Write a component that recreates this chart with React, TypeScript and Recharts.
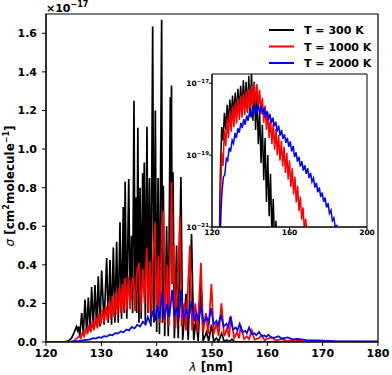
import React from 'react';
import { LineChart, Line, XAxis, YAxis, ReferenceArea } from 'recharts';

const xTicks = [120, 130, 140, 150, 160, 170, 180];
const yTicks = [0, 0.2, 0.4, 0.6, 0.8, 1.0, 1.2, 1.4, 1.6];
const insetXTicks = [120, 160, 200];
const insetYTicks = [1e-21, 1e-19, 1e-17];

const seriesNames = ['T = 300 K', 'T = 1000 K', 'T = 2000 K'];
const seriesColors = ['#000000', '#ff0000', '#0000ff'];

// main panel: [lambda (nm), sigma (1e-17 cm^2/molecule)]
const black300 = [
  [120, 0], [123, 0], [124, 0.005], [124.6, 0.02], [125.1, 0.05], [125.5, 0.08], [125.7, 0.06], [125.9, 0.08],
  [126.1, 0.03], [126.45, 0.15], [126.75, 0.04], [127.05, 0.22], [127.35, 0.05], [127.65, 0.23], [127.95, 0.06],
  [128.25, 0.285], [128.55, 0.07], [128.85, 0.295], [129.15, 0.08], [129.45, 0.34], [129.75, 0.08], [130.06, 0.37],
  [130.5, 0.09], [130.96, 0.435], [131.25, 0.1], [131.57, 0.425], [131.85, 0.09], [132.17, 0.49], [132.45, 0.1],
  [132.77, 0.52], [133.05, 0.1], [133.37, 0.62], [133.65, 0.12], [133.97, 0.7], [134.15, 0.15], [134.3, 0.83],
  [134.6, 0.12], [134.95, 0.845], [135.2, 0.2], [135.45, 0.55], [135.65, 0.15], [135.9, 1.25], [136.1, 0.2],
  [136.25, 0.75], [136.4, 0.15], [136.6, 1.11], [136.8, 0.1], [137.0, 0.8], [137.2, 0.12], [137.47, 0.875],
  [137.6, 0.3], [137.76, 0.93], [137.95, 0.1], [138.25, 1.115], [138.45, 0.15], [138.7, 0.85], [138.95, 0.08],
  [139.28, 1.635], [139.5, 0.1], [139.76, 1.2], [140.0, 0.05], [140.25, 0.85], [140.5, 0.04], [140.9, 1.67],
  [141.05, 0.1], [141.2, 0.81], [141.45, 0.03], [141.8, 0.6], [142.1, 0.03], [142.47, 1.27], [142.57, 0.6],
  [142.68, 1.33], [142.8, 0.3], [142.95, 0.88], [143.2, 0.02], [143.6, 0.5], [143.9, 0.02], [144.38, 0.855],
  [144.7, 0.01], [145.3, 0.25], [145.7, 0.01], [146.3, 0.56], [146.7, 0.01], [147.1, 0.12], [147.5, 0.005],
  [148.0, 0.31], [148.4, 0.005], [149.0, 0.05], [149.4, 0.005], [149.9, 0.09], [150.3, 0.003], [150.8, 0.02],
  [151.2, 0.003], [151.75, 0.045], [152.2, 0.002], [152.7, 0.01], [153.1, 0.002], [153.6, 0.015], [154.1, 0.001],
  [155, 0.001], [160, 0], [180, 0],
];

const red1000 = [
  [120, 0], [124, 0], [125, 0.005], [125.6, 0.02], [126, 0.03], [126.3, 0.02], [126.6, 0.05], [126.9, 0.03],
  [127.2, 0.07], [127.5, 0.04], [127.8, 0.09], [128.1, 0.05], [128.4, 0.11], [128.7, 0.06], [129.0, 0.13],
  [129.3, 0.07], [129.6, 0.15], [129.9, 0.09], [130.2, 0.17], [130.5, 0.1], [130.8, 0.19], [131.1, 0.11],
  [131.4, 0.21], [131.7, 0.12], [132.0, 0.24], [132.3, 0.13], [132.6, 0.26], [132.9, 0.14], [133.2, 0.28],
  [133.5, 0.15], [133.8, 0.3], [134.05, 0.16], [134.3, 0.33], [134.6, 0.17], [134.9, 0.34], [135.2, 0.17],
  [135.5, 0.3], [135.8, 0.34], [136.1, 0.16], [136.4, 0.36], [136.8, 0.41], [137.1, 0.15], [137.5, 0.38],
  [137.8, 0.2], [138.2, 0.49], [138.5, 0.15], [138.8, 0.42], [139.1, 0.13], [139.3, 0.4], [139.7, 0.62],
  [140.0, 0.14], [140.3, 0.45], [140.6, 0.1], [141.0, 0.6], [141.2, 0.68], [141.5, 0.1], [141.9, 0.4],
  [142.2, 0.08], [142.7, 0.83], [142.9, 0.3], [143.1, 0.5], [143.4, 0.07], [143.8, 0.3], [144.2, 0.65],
  [144.5, 0.08], [145.0, 0.2], [145.3, 0.06], [146.0, 0.5], [146.4, 0.06], [147.0, 0.2], [147.4, 0.05],
  [148.0, 0.41], [148.4, 0.05], [148.9, 0.15], [149.3, 0.04], [149.9, 0.3], [150.3, 0.04], [150.8, 0.1],
  [151.2, 0.03], [151.7, 0.2], [152.2, 0.03], [152.7, 0.07], [153.1, 0.025], [153.4, 0.135], [154.0, 0.02],
  [154.5, 0.05], [154.9, 0.02], [155.2, 0.085], [155.8, 0.015], [156.3, 0.03], [156.7, 0.015], [157.2, 0.06],
  [157.7, 0.012], [158.5, 0.02], [159.0, 0.035], [159.5, 0.01], [160.8, 0.025], [161.5, 0.008], [162.5, 0.015],
  [163.5, 0.006], [165, 0.008], [167, 0.004], [170, 0.003], [175, 0.002], [180, 0.001],
];

const blue2000 = [
  [120, 0], [124, 0], [125, 0.003], [126, 0.006], [127, 0.01], [128, 0.014], [128.5, 0.02], [129, 0.018],
  [129.5, 0.025], [130, 0.022], [130.5, 0.03], [131, 0.028], [131.5, 0.038], [132, 0.035], [132.5, 0.046],
  [133, 0.043], [133.5, 0.055], [134, 0.05], [134.5, 0.065], [135, 0.06], [135.5, 0.078], [136, 0.07],
  [136.5, 0.09], [137, 0.08], [137.5, 0.105], [138, 0.09], [138.4, 0.13], [138.8, 0.1], [139.3, 0.16],
  [139.7, 0.11], [140.1, 0.19], [140.5, 0.12], [141.0, 0.26], [141.4, 0.12], [141.9, 0.2], [142.3, 0.13],
  [142.8, 0.27], [143.2, 0.13], [143.6, 0.18], [144.0, 0.12], [144.4, 0.27], [144.9, 0.12], [145.4, 0.17],
  [145.8, 0.12], [146.3, 0.21], [146.8, 0.11], [147.2, 0.15], [147.6, 0.11], [148.0, 0.19], [148.5, 0.1],
  [149.0, 0.13], [149.4, 0.1], [149.85, 0.175], [150.3, 0.09], [150.8, 0.11], [151.1, 0.085], [151.6, 0.14],
  [152.1, 0.08], [152.6, 0.095], [152.9, 0.075], [153.3, 0.13], [153.8, 0.065], [154.3, 0.075], [154.6, 0.06],
  [155.0, 0.095], [155.5, 0.05], [156.0, 0.058], [156.3, 0.045], [156.7, 0.075], [157.2, 0.04], [157.7, 0.045],
  [158.0, 0.035], [158.5, 0.052], [159.0, 0.03], [159.5, 0.034], [159.8, 0.026], [160.2, 0.038], [160.8, 0.022],
  [161.5, 0.024], [162.0, 0.03], [162.6, 0.018], [163.7, 0.024], [164.5, 0.014], [165.5, 0.016], [167, 0.01],
  [169, 0.008], [172, 0.005], [176, 0.004], [180, 0.003],
];

// inset, log scale: [lambda (nm), sigma (cm^2/molecule)]
const insetBlack = [
  [123.6, 1e-22], [124.3, 3e-20], [125.0, 6e-19], [125.7, 2.5e-19], [126.4, 1.5e-18], [127.1, 5e-19],
  [127.8, 2.5e-18], [128.5, 8e-19], [129.2, 3.5e-18], [129.9, 1.1e-18], [130.6, 4.5e-18], [131.3, 1.3e-18],
  [132.0, 5.5e-18], [132.7, 1.5e-18], [133.4, 7e-18], [134.1, 1.8e-18], [134.8, 8.5e-18], [135.5, 2e-18],
  [136.2, 1.2e-17], [136.9, 2e-18], [137.6, 1.1e-17], [138.3, 1.5e-18], [139.0, 1.6e-17], [139.7, 1.2e-18],
  [140.4, 2.2e-17], [141.1, 9e-19], [141.8, 1.1e-17], [142.5, 5e-19], [143.2, 5e-18], [143.9, 2e-19],
  [144.6, 1.5e-18], [145.3, 6e-20], [146.0, 7e-19], [146.7, 2e-20], [147.4, 3e-19], [148.1, 5e-21],
  [148.8, 1e-19], [149.5, 2e-21], [150.2, 3e-20], [150.9, 6e-22], [151.6, 6e-21], [152.3, 3e-22],
  [153.0, 1.5e-21], [153.7, 2e-22], [154.4, 5e-22], [155.1, 1e-22],
];

const insetRed = [
  [124.0, 1e-22], [124.5, 1e-20], [125.0, 1.2e-19], [125.7, 5e-20], [126.4, 5e-19], [127.1, 1.8e-19],
  [127.8, 1e-18], [128.5, 3e-19], [129.2, 1.7e-18], [129.9, 4.5e-19], [130.6, 2.3e-18], [131.3, 6e-19],
  [132.0, 2.9e-18], [132.7, 7.5e-19], [133.4, 3.8e-18], [134.1, 9.5e-19], [134.8, 4.5e-18], [135.5, 1.1e-18],
  [136.2, 5.2e-18], [136.9, 1.3e-18], [137.6, 6e-18], [138.3, 1.6e-18], [139.0, 7e-18], [139.7, 2e-18],
  [140.4, 8.5e-18], [141.1, 2.3e-18], [141.8, 1e-17], [142.5, 2.6e-18], [143.2, 9.5e-18], [143.9, 2.2e-18],
  [144.6, 6.5e-18], [145.3, 1.4e-18], [146.0, 4e-18], [146.7, 8e-19], [147.4, 2.4e-18], [148.1, 5e-19],
  [148.8, 1.6e-18], [149.5, 3e-19], [150.2, 1.1e-18], [150.9, 2e-19], [151.6, 7.5e-19], [152.3, 1.4e-19],
  [153.0, 5.2e-19], [153.7, 1e-19], [154.4, 3.6e-19], [155.1, 7e-20], [155.8, 2.5e-19], [156.5, 4.8e-20],
  [157.2, 1.7e-19], [157.9, 3.2e-20], [158.6, 1.15e-19], [159.3, 2.1e-20], [160.0, 7e-20], [160.7, 1.3e-20],
  [161.4, 4.3e-20], [162.1, 8e-21], [162.8, 2.5e-20], [163.5, 4.8e-21], [164.2, 1.4e-20], [164.9, 2.8e-21],
  [165.6, 7e-21], [166.3, 1.6e-21], [167.0, 3.5e-21], [167.7, 8e-22], [168.4, 1.7e-21], [169.1, 4e-22],
  [169.8, 8e-22], [170.2, 1e-22],
];

const insetBlue = [
  [124.0, 1e-22], [124.6, 2.5e-21], [125.2, 1e-20], [125.9, 2.5e-20], [126.6, 2.8e-20], [127.4, 8e-20], [128.1, 7e-20],
  [128.9, 1.6e-19], [129.6, 1.25e-19], [130.4, 2.6e-19], [131.1, 2.1e-19], [131.9, 4.1e-19], [132.6, 3e-19],
  [133.4, 5.6e-19], [134.1, 4.2e-19], [134.9, 7.9e-19], [135.6, 5.6e-19], [136.4, 1e-18], [137.1, 7e-19],
  [137.9, 1.26e-18], [138.6, 9e-19], [139.4, 1.6e-18], [140.1, 1.1e-18], [140.9, 2e-18], [141.6, 1.4e-18],
  [142.4, 2.4e-18], [143.1, 1.4e-18], [143.9, 2.5e-18], [144.6, 1.5e-18], [145.4, 2.4e-18], [146.1, 1.35e-18],
  [146.9, 2.1e-18], [147.6, 1.1e-18], [148.4, 1.7e-18], [149.1, 9.5e-19], [149.9, 1.4e-18], [150.6, 7.6e-19],
  [151.4, 1.1e-18], [152.1, 6.3e-19], [152.9, 8.5e-19], [153.6, 4.5e-19], [154.4, 6.6e-19], [155.1, 3.5e-19],
  [155.9, 5e-19], [156.6, 2.8e-19], [157.4, 3.8e-19], [158.1, 2.2e-19], [158.9, 3e-19], [159.6, 1.7e-19],
  [160.4, 2.4e-19], [161.1, 1.26e-19], [161.9, 1.8e-19], [162.6, 8.9e-20], [163.4, 1.2e-19], [164.1, 6.6e-20],
  [164.9, 8.9e-20], [165.6, 4.8e-20], [166.4, 6.8e-20], [167.1, 3.7e-20], [167.9, 5.2e-20], [168.6, 3e-20],
  [169.4, 4.3e-20], [170.1, 2.3e-20], [170.9, 3.2e-20], [171.6, 1.8e-20], [172.4, 2.3e-20], [173.1, 1.26e-20],
  [173.9, 1.7e-20], [174.6, 9.3e-21], [175.4, 1.26e-20], [176.1, 6.8e-21], [176.9, 9.1e-21], [177.6, 5e-21],
  [178.4, 6.6e-21], [179.1, 3.5e-21], [179.9, 4.6e-21], [180.6, 2.4e-21], [181.4, 2.95e-21], [182.1, 1.5e-21],
  [182.9, 1.8e-21], [183.6, 1e-21], [184.4, 1.1e-21], [185.0, 5e-22],
];

const font = 'DejaVu Sans';
const toPoints = (arr: number[][]) => arr.map(([x, y]) => ({ x, y }));

const mainSeries = [black300, red1000, blue2000];
const insetSeries = [insetBlack, insetRed, insetBlue];

const PowerTick = (props: any) => {
  const { x, y, payload } = props;
  const exp = Math.round(Math.log10(payload.value));
  return (
    <text x={x} y={y} dy={3} textAnchor="end" fontFamily={font} fontWeight="bold" fontSize={7.5} fill="#000">
      <tspan>10</tspan>
      <tspan dy={-3.5} fontSize={5.5}>{`\u2212${-exp}`}</tspan>
    </text>
  );
};

const App: React.FC = () => {
  return (
    <div style={{ position: 'absolute', left: 0, top: 0, width: 392, height: 375, background: '#fff' }}>
      <LineChart width={392} height={375} margin={{ top: 14, right: 14, left: 0, bottom: 0 }}>
        <XAxis
          type="number"
          dataKey="x"
          domain={[120, 180]}
          ticks={xTicks}
          allowDataOverflow
          height={33}
          tickSize={4}
          tickMargin={3}
          axisLine={{ stroke: '#000' }}
          tickLine={{ stroke: '#000' }}
          tick={{ fill: '#000', fontSize: 11, fontWeight: 'bold', fontFamily: font }}
        />
        <YAxis
          type="number"
          domain={[0, 1.7]}
          ticks={yTicks}
          allowDataOverflow
          width={46}
          tickSize={4}
          tickMargin={5}
          tickFormatter={(v: number) => v.toFixed(1)}
          axisLine={{ stroke: '#000' }}
          tickLine={{ stroke: '#000' }}
          tick={{ fill: '#000', fontSize: 11, fontWeight: 'bold', fontFamily: font }}
        />
        <ReferenceArea x1={120} x2={180} y1={0} y2={1.7} fill="none" stroke="#000" strokeWidth={1.2} />
        {mainSeries.map((s, i) => (
          <Line
            key={seriesNames[i]}
            data={toPoints(s)}
            dataKey="y"
            type="linear"
            stroke={seriesColors[i]}
            strokeWidth={1.7}
            dot={false}
            isAnimationActive={false}
          />
        ))}
        <text x={46} y={12} fontFamily={font} fontWeight="bold" fontSize={11} fill="#000">
          <tspan>×10</tspan>
          <tspan dy={-5} fontSize={8}>−17</tspan>
        </text>
        <text x={211} y={371} textAnchor="middle" fontFamily={font} fontWeight="bold" fontSize={12} fill="#000">
          <tspan fontStyle="italic" fontWeight="normal">λ</tspan>
          <tspan> [nm]</tspan>
        </text>
        <text transform="translate(14,186) rotate(-90)" textAnchor="middle" fontFamily={font} fontWeight="bold" fontSize={12} fill="#000">
          <tspan fontStyle="italic" fontWeight="normal">σ</tspan>
          <tspan> [cm</tspan>
          <tspan dy={-5} fontSize={8}>2</tspan>
          <tspan dy={5}>molecule</tspan>
          <tspan dy={-5} fontSize={8}>−1</tspan>
          <tspan dy={5}>]</tspan>
        </text>
        {seriesNames.map((name, i) => (
          <g key={name}>
            <line x1={269} x2={294} y1={30 + i * 16.5} y2={30 + i * 16.5} stroke={seriesColors[i]} strokeWidth={2} />
            <text x={304} y={34 + i * 16.5} fontFamily={font} fontWeight="bold" fontSize={11} fill="#000">
              {name}
            </text>
          </g>
        ))}
      </LineChart>
      <div style={{ position: 'absolute', left: 180, top: 70 }}>
        <LineChart width={200} height={175} margin={{ top: 4, right: 13, left: 0, bottom: 0 }}>
          <XAxis
            type="number"
            dataKey="x"
            domain={[120, 200]}
            ticks={insetXTicks}
            allowDataOverflow
            height={18}
            tickSize={3}
            tickMargin={0}
            axisLine={{ stroke: '#000' }}
            tickLine={{ stroke: '#000' }}
            tick={{ fill: '#000', fontSize: 7.5, fontWeight: 'bold', fontFamily: font }}
          />
          <YAxis
            type="number"
            scale="log"
            domain={[1e-21, 1.8e-17]}
            ticks={insetYTicks}
            allowDataOverflow
            width={32}
            tickSize={3}
            tickMargin={0}
            axisLine={{ stroke: '#000' }}
            tickLine={{ stroke: '#000' }}
            tick={<PowerTick />}
          />
          <ReferenceArea x1={120} x2={200} y1={1e-21} y2={1.8e-17} fill="none" stroke="#000" strokeWidth={1} />
          {insetSeries.map((s, i) => (
            <Line
              key={seriesNames[i]}
              data={toPoints(s)}
              dataKey="y"
              type="linear"
              stroke={seriesColors[i]}
              strokeWidth={1.5}
              dot={false}
              isAnimationActive={false}
            />
          ))}
        </LineChart>
      </div>
    </div>
  );
};

export default App;
